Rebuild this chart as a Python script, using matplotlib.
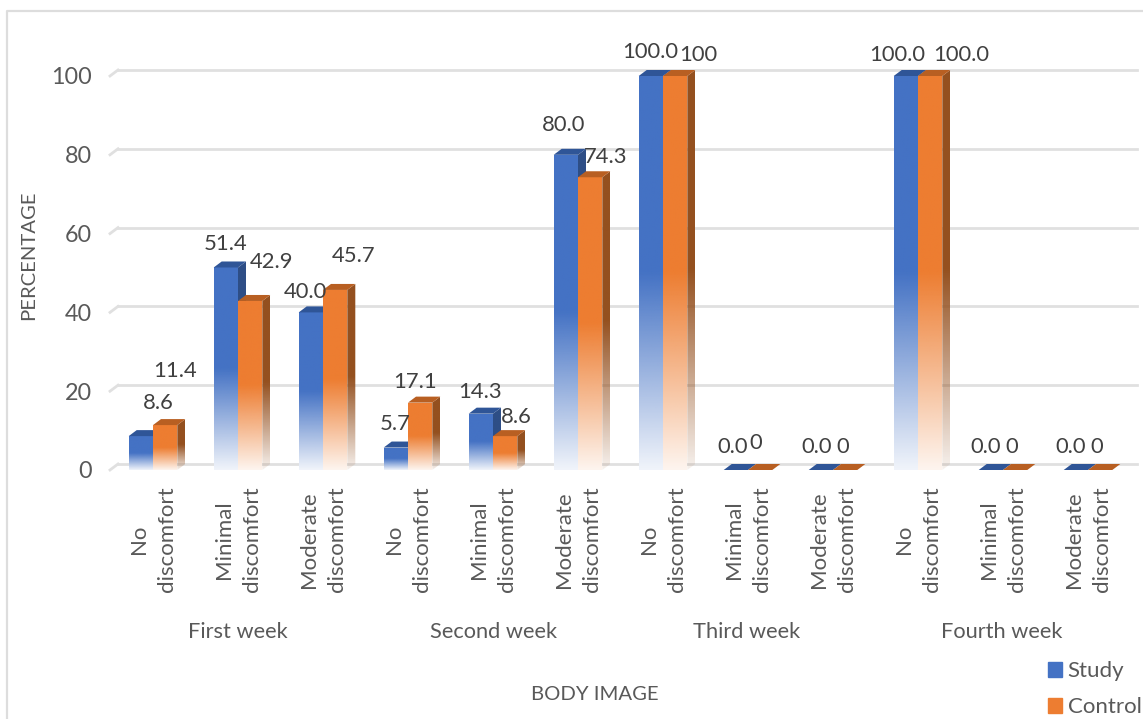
import numpy as np
import matplotlib
matplotlib.use("Agg")
import matplotlib.pyplot as plt
from matplotlib.patches import Patch, Polygon

plt.rcParams["font.family"] = ["Lato", "DejaVu Sans"]

W, H = 1143, 719
CATS = ["No\ndiscomfort", "Minimal\ndiscomfort", "Moderate\ndiscomfort"] * 4
WEEKS = ["First week", "Second week", "Third week", "Fourth week"]
STUDY = [8.6, 51.4, 40.0, 5.7, 14.3, 80.0, 100.0, 0.0, 0.0, 100.0, 0.0, 0.0]
CONTROL = [11.4, 42.9, 45.7, 17.1, 8.6, 74.3, 100.0, 0.0, 0.0, 100.0, 0.0, 0.0]
STUDY_TXT = ["8.6", "51.4", "40.0", "5.7", "14.3", "80.0", "100.0", "0.0", "0.0", "100.0", "0.0", "0.0"]
CONTROL_TXT = ["11.4", "42.9", "45.7", "17.1", "8.6", "74.3", "100", "0", "0", "100.0", "0", "0"]
YTICKS = [0, 20, 40, 60, 80, 100]

# label shift from the bar top, in pixels
STUDY_OFF = [(17, 33), (0, 23), (-5, 20), (-1, 24), (-1, 22), (-2, 30),
             (-1, 24), (-3, 23), (-4, 23), (-9, 21), (-5, 23), (-5, 23)]
CONTROL_OFF = [(10, 54), (21, 39), (18, 34), (-5, 21), (11, 19), (15, 20),
               (23, 21), (-4, 27), (-2, 23), (31, 21), (-3, 23), (-3, 23)]

PITCH = 85.0      # px per category
PX_Y = 3.94       # px per percent
BAR_W = 24.3 / PITCH
DX, DY = 8 / PITCH, 6 / PX_Y

BLUE = ("#4472C4", "#2F5597", "#2E4E86")
ORANGE = ("#ED7D31", "#B85F22", "#94501F")
TXT = "#404040"
AXT = "#595959"
GRID = "#E0E0E0"


def fade_face(ax, verts, color, base, top):
    """Face solid in its upper half, fading out towards the floor."""
    poly = Polygon(verts, closed=True, fill=False, edgecolor="none",
                   transform=ax.transData)
    ax.add_patch(poly)
    t = np.linspace(0, 1, 200)  # 0 = top of image
    alpha = np.where(t < 0.5, 1.0, 1.0 - (t - 0.5) / 0.5 * 0.92)
    rgba = np.zeros((200, 1, 4))
    rgba[..., :3] = matplotlib.colors.to_rgb(color)
    rgba[:, 0, 3] = alpha
    xs = [v[0] for v in verts]
    im = ax.imshow(rgba, extent=(min(xs), max(xs), base, top), aspect="auto",
                   origin="upper", interpolation="bilinear", zorder=2)
    im.set_clip_path(poly)


def draw_bar(ax, x0, v, cols):
    x1 = x0 + BAR_W
    ax.bar(x0, v, BAR_W, align="edge", color="white", zorder=2)
    if v > 0:
        fade_face(ax, [(x1, 0), (x1 + DX, DY), (x1 + DX, v + DY), (x1, v)], cols[2], 0, v + DY)
        fade_face(ax, [(x0, 0), (x1, 0), (x1, v), (x0, v)], cols[0], 0, v)
    ax.add_patch(Polygon([(x0, v), (x1, v), (x1 + DX, v + DY), (x0 + DX, v + DY)],
                         closed=True, fc=cols[1], ec="none", zorder=2))


fig = plt.figure(figsize=(W / 100, H / 100), dpi=100)
ax = fig.add_axes([113 / W, 1 - 470 / H, (W - 113) / W, 450 / H])
ax.set_axisbelow(True)

x = np.arange(len(CATS))
xl = (118 - 153) / PITCH
xr = (1137 - 153) / PITCH
for t in YTICKS:
    ax.plot([xl, xr], [t + DY, t + DY], color=GRID, lw=2, zorder=1, clip_on=False)
    ax.plot([xl - DX, xl], [t, t + DY], color=GRID, lw=2, zorder=1, clip_on=False)

for i in x:
    draw_bar(ax, i - BAR_W, STUDY[i], BLUE)
    draw_bar(ax, i, CONTROL[i], ORANGE)

for i in x:
    ax.annotate(STUDY_TXT[i], (i - BAR_W / 2, STUDY[i]), xytext=STUDY_OFF[i],
                textcoords="offset pixels", ha="center", va="center",
                fontsize=15.8, color=TXT, zorder=5, annotation_clip=False)
    ax.annotate(CONTROL_TXT[i], (i + BAR_W / 2, CONTROL[i]), xytext=CONTROL_OFF[i],
                textcoords="offset pixels", ha="center", va="center",
                fontsize=15.8, color=TXT, zorder=5, annotation_clip=False)

ax.set_xlim((113 - 153) / PITCH, (W - 153) / PITCH)
ax.set_ylim(0, 450 / PX_Y)
for s in ax.spines.values():
    s.set_visible(False)
ax.set_yticks(YTICKS)
ax.tick_params(axis="y", length=0, pad=15, labelsize=16.8, labelcolor=AXT)
ax.set_xticks(x)
ax.set_xticklabels(CATS, rotation=90, ha="center", va="top", linespacing=1.45)
ax.tick_params(axis="x", length=0, pad=12, labelsize=16, labelcolor=AXT)

for k, w in enumerate(WEEKS):
    ax.annotate(w, (3 * k + 1, 0), xytext=(-1.5 * (k > 1), -162), textcoords="offset pixels",
                ha="center", va="center", fontsize=15.7, color=AXT, annotation_clip=False)

fig.text(595 / W, 1 - 695 / H, "BODY IMAGE", ha="center", va="center", fontsize=14.6, color=AXT)
fig.text(29 / W, 1 - 255 / H, "PERCENTAGE", rotation=90, ha="center", va="center", fontsize=14.6, color=AXT)

handles = [Patch(color=BLUE[0], label="Study"), Patch(color=ORANGE[0], label="Control")]
fig.legend(handles=handles, loc="lower left", bbox_to_anchor=(1048 / W, 2 / H), frameon=False,
           fontsize=16, labelcolor=AXT, handlelength=0.64, handleheight=0.64,
           handletextpad=0.25, labelspacing=0.72, borderaxespad=0, borderpad=0)

# chart frame
fig.add_artist(plt.Line2D([7 / W, 7 / W, 1], [0, 1 - 11 / H, 1 - 11 / H], color="#DDDDDD", lw=1.6))

fig.savefig("out.png", dpi=100)
